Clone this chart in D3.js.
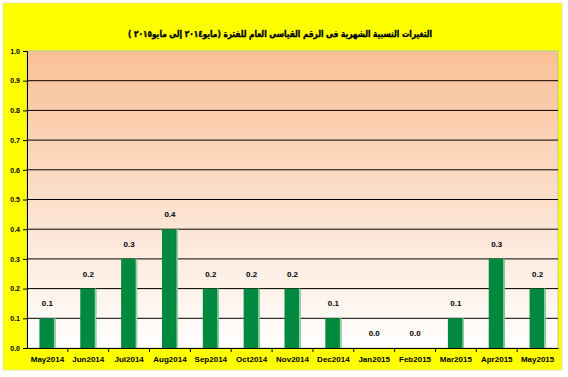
<!DOCTYPE html>
<html>
<head>
<meta charset="utf-8">
<script src="https://cdn.jsdelivr.net/npm/d3@7"></script>
<style>
  body { margin: 0; background: #fff; }
  text { font-family: "Liberation Sans", Arial, sans-serif; font-weight: bold; }
</style>
</head>
<body>
<div id="chart"></div>
<script>
const months = ["May2014","Jun2014","Jul2014","Aug2014","Sep2014","Oct2014","Nov2014",
                "Dec2014","Jan2015","Feb2015","Mar2015","Apr2015","May2015"];
const changes = [0.1,0.2,0.3,0.4,0.2,0.2,0.2,0.1,0.0,0.0,0.1,0.3,0.2];
const yTicks = [0,0.1,0.2,0.3,0.4,0.5,0.6,0.7,0.8,0.9,1.0];
const title = "التغيرات النسبية الشهرية فى الرقم القياسى العام للفترة (مايو٢٠١٤ إلى مايو٢٠١٥ )";

const W = 568, H = 377;
const plotL = 27, plotR = 558, plotT = 51, plotB = 348;

var svg = d3.select("#chart").append("svg")
            .attr("width", W).attr("height", H);

// yellow chart background
svg.append("rect")
   .attr("x", 3).attr("y", 3)
   .attr("width", 559).attr("height", 367)
   .attr("fill", "#ffff00")
   .attr("stroke", "#e8e8a0");

var grad = svg.append("defs").append("linearGradient")
              .attr("id", "plotbg")
              .attr("x1", 0).attr("y1", 0).attr("x2", 0).attr("y2", 1);
grad.append("stop").attr("offset", "0%").attr("stop-color", "#f9c096");
grad.append("stop").attr("offset", "100%").attr("stop-color", "#ffffff");

var x = d3.scaleBand().domain(months).range([plotL, plotR]);
var y = d3.scaleLinear().domain([0, 1]).range([plotB, plotT]);

// plot area
svg.append("rect")
   .attr("x", plotL).attr("y", plotT)
   .attr("width", plotR - plotL).attr("height", plotB - plotT)
   .attr("fill", "url(#plotbg)")
   .attr("stroke", "#b8c8a0");

// gridlines
svg.append("g").selectAll("line")
   .data(yTicks.filter(d => d > 0 && d < 1))
   .enter().append("line")
   .attr("x1", plotL).attr("x2", plotR)
   .attr("y1", d => y(d)).attr("y2", d => y(d))
   .attr("stroke", "#000").attr("stroke-width", 1);

// bars
var barW = 16;
var bars = svg.append("g").selectAll("g")
   .data(months)
   .enter().append("g");
bars.append("rect")
   .attr("x", (d, i) => x(d) + x.bandwidth() / 2 - barW / 2)
   .attr("y", (d, i) => y(changes[i]))
   .attr("width", barW)
   .attr("height", (d, i) => y(0) - y(changes[i]))
   .attr("fill", "#00893f");
bars.append("rect") // light edge on the right
   .attr("x", (d, i) => x(d) + x.bandwidth() / 2 + barW / 2 - 1.5)
   .attr("y", (d, i) => y(changes[i]))
   .attr("width", 1.5)
   .attr("height", (d, i) => y(0) - y(changes[i]))
   .attr("fill", "#9ad4a8");

// value labels
bars.append("text")
   .attr("x", d => x(d) + x.bandwidth() / 2)
   .attr("y", (d, i) => y(changes[i]) - 12)
   .attr("text-anchor", "middle")
   .attr("font-size", 8)
   .text((d, i) => changes[i].toFixed(1));

// y axis
var yAxis = svg.append("g")
   .attr("transform", "translate(" + plotL + ",0)")
   .call(d3.axisLeft(y).tickValues(yTicks).tickSize(4).tickPadding(3).tickFormat(d3.format(".1f")));
yAxis.select(".domain").attr("stroke", "#000");
yAxis.selectAll("text").attr("font-size", 7).attr("font-family", null).attr("fill", "#000");

// x axis, ticks between categories
var xAxis = svg.append("g")
   .attr("transform", "translate(0," + plotB + ")")
   .call(d3.axisBottom(x).tickSize(0).tickPadding(8));
xAxis.select(".domain").attr("stroke", "#000");
xAxis.selectAll("text").attr("font-size", 8).attr("font-family", null).attr("fill", "#000");
xAxis.selectAll(".sep")
   .data(months.slice(1))
   .enter().append("line")
   .attr("x1", d => x(d)).attr("x2", d => x(d))
   .attr("y1", 0).attr("y2", 4)
   .attr("stroke", "#000");

// title
svg.append("text")
   .attr("x", 280).attr("y", 37)
   .attr("text-anchor", "middle")
   .attr("direction", "rtl")
   .style("font-family", "'DejaVu Sans', sans-serif")
   .attr("font-size", 9)
   .attr("textLength", 304)
   .attr("lengthAdjust", "spacingAndGlyphs")
   .attr("stroke", "#000").attr("stroke-width", 0.4)
   .text(title);
</script>
</body>
</html>
